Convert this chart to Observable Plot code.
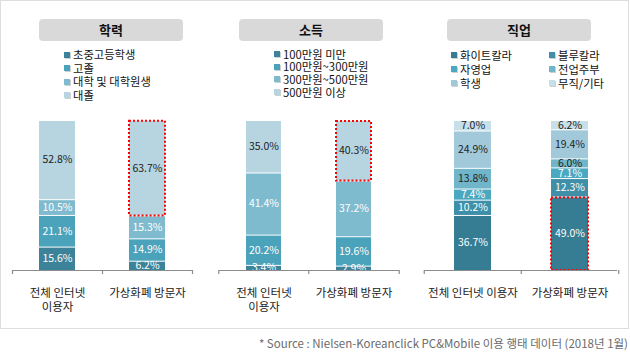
<!DOCTYPE html>
<html><head><meta charset="utf-8">
<script src="https://cdn.jsdelivr.net/npm/d3@7"></script>
<script src="https://cdn.jsdelivr.net/npm/@observablehq/plot@0.6"></script>
<style>
body{margin:0;background:#fff;}
#wrap{position:relative;width:630px;height:361px;font-family:"Noto Sans CJK KR","Noto Sans",sans-serif;overflow:hidden;background:#fff;}
.frame{position:absolute;left:0px;top:0px;width:629px;height:329px;border:1.5px solid #dedede;box-sizing:border-box;}
.title{position:absolute;top:19px;height:22px;width:144px;background:#d9d9d9;border-radius:4px;text-align:center;font-weight:bold;font-size:13px;line-height:22px;color:#111;}
.legend{position:absolute;font-size:11.3px;color:#111;}
.legend .item{display:flex;align-items:center;white-space:nowrap;overflow:visible;}
.legend .sw{width:6px;height:6px;margin-right:3px;box-shadow:1px 1px 0 #cfcfcf;flex:none;}
.plot{position:absolute;top:110px;}
.caption{position:absolute;right:2px;top:335px;font-size:11.5px;color:#6b6b6b;white-space:nowrap;line-height:16px;}
</style></head>
<body>
<div id="wrap">
  <div class="frame"></div>
</div>
<script>
const FONT = '"Noto Sans CJK KR", "Noto Sans", sans-serif';

// ---- data ----
const groups = ["전체 인터넷 이용자", "가상화폐 방문자"];
const tickLabelsWrapped = ["전체 인터넷\n이용자", "가상화폐 방문자"];
const tickLabelsFlat = ["전체 인터넷 이용자", "가상화폐 방문자"];

const panelTitles = ["학력", "소득", "직업"];

const eduCats = ["초중고등학생", "고졸", "대학 및 대학원생", "대졸"];
const eduAll = [15.6, 21.1, 10.5, 52.8];
const eduCoin = [6.2, 14.9, 15.3, 63.7];

const incCats = ["100만원 미만", "100만원~300만원", "300만원~500만원", "500만원 이상"];
const incAll = [3.4, 20.2, 41.4, 35.0];
const incCoin = [2.9, 19.6, 37.2, 40.3];

const jobCats = ["화이트칼라", "블루칼라", "자영업", "전업주부", "학생", "무직/기타"];
const jobAll = [36.7, 10.2, 7.4, 13.8, 24.9, 7.0];
const jobCoin = [49.0, 12.3, 7.1, 6.0, 19.4, 6.2];

const highlightEdu = {group: "가상화폐 방문자", cat: "대졸"};
const highlightInc = {group: "가상화폐 방문자", cat: "500만원 이상"};
const highlightJob = {group: "가상화폐 방문자", cat: "화이트칼라"};

const captionText = "* Source : Nielsen-Koreanclick PC&Mobile 이용 행태 데이터 (2018년 1월)";

// ---- styles ----
const colors4 = ["#3c8399", "#4aa2bb", "#7fbbcf", "#b7d5e1"];
const labels4 = ["#ffffff", "#ffffff", "#ffffff", "#222222"];
const colors6 = ["#367c93", "#408fa8", "#4ba8c1", "#70b5ca", "#a2c9da", "#c6dfe8"];
const labels6 = ["#ffffff", "#ffffff", "#ffffff", "#222222", "#222222", "#222222"];

const wrap = document.getElementById("wrap");

function addTitle(text, left) {
  const d = document.createElement("div");
  d.className = "title"; d.style.left = left + "px"; d.textContent = text;
  wrap.appendChild(d);
}

function addLegend(cats, colors, left, top, rowH, cols, colW) {
  const box = document.createElement("div");
  box.className = "legend"; box.style.left = left + "px"; box.style.top = top + "px";
  box.style.display = "grid";
  box.style.gridTemplateColumns = `repeat(${cols}, ${colW}px)`;
  box.style.gridAutoRows = rowH + "px";
  box.style.lineHeight = rowH + "px";
  cats.forEach((c, i) => {
    const it = document.createElement("div"); it.className = "item";
    it.style.height = rowH + "px";
    const sw = document.createElement("span"); sw.className = "sw"; sw.style.background = colors[i];
    const tx = document.createElement("span"); tx.textContent = c; tx.style.lineHeight = rowH + "px";
    it.appendChild(sw); it.appendChild(tx); box.appendChild(it);
  });
  wrap.appendChild(box);
}

function panel(cfg) {
  const data = [];
  groups.forEach((g, gi) => {
    const vals = gi === 0 ? cfg.all : cfg.coin;
    cfg.cats.forEach((c, ci) => data.push({group: g, cat: c, value: vals[ci], ci}));
  });
  const ml = 12, mr = cfg.width - 12 - cfg.span;
  const pi = cfg.pi, po = 0.3;
  const step = cfg.span / (2 - pi + 2 * po);
  const isHl = d => d.group === cfg.hl.group && d.cat === cfg.hl.cat;
  const axisColor = "#8c8c8c";
  const chart = Plot.plot({
    width: cfg.width, height: 205,
    marginLeft: ml, marginRight: mr, marginTop: 4, marginBottom: 45,
    style: {fontFamily: FONT, fontSize: "11px", background: "transparent", overflow: "visible"},
    x: {type: "band", domain: groups, paddingInner: pi, paddingOuter: po, axis: null},
    y: {domain: [0, 104], axis: null},
    color: {type: "identity"},
    marks: [
      Plot.barY(data, Plot.stackY({x: "group", y: "value", z: "cat", fill: d => cfg.colors[d.ci], insetTop: 1})),
      Plot.text(data, Plot.stackY({x: "group", y: "value", z: "cat",
        text: d => d.value.toFixed(1) + "%", fill: d => cfg.labelColors[d.ci],
        fontSize: 10.5, clip: "frame"})),
      Plot.barY(data, Plot.stackY({x: "group", y: "value", z: "cat", fill: "none",
        stroke: d => isHl(d) ? "#ff0000" : "none", strokeWidth: 2, strokeDasharray: "2,2", insetTop: 1})),
      Plot.ruleY([0], {stroke: axisColor, strokeWidth: 1.2}),
      Plot.ruleX(groups, {x: d => d, y1: 0, y2: -2.7, dx: -step / 2, stroke: axisColor, strokeWidth: 1.2}),
      Plot.ruleX([groups[1]], {x: d => d, y1: 0, y2: -2.7, dx: step / 2, stroke: axisColor, strokeWidth: 1.2}),
      Plot.axisX({tickSize: 0, tickPadding: 16, label: null,
        tickFormat: d => cfg.tickLabels[groups.indexOf(d)],
        fontSize: 11.5, lineHeight: 1.25, fill: "#222"})
    ]
  });
  chart.classList.add("plot");
  chart.style.position = "absolute";
  chart.style.left = cfg.left + "px";
  chart.style.top = "110px";
  wrap.appendChild(chart);
}

addTitle(panelTitles[0], 39);
addTitle(panelTitles[1], 239);
addTitle(panelTitles[2], 447);

addLegend(eduCats, colors4, 64, 48, 13.5, 1, 140);
addLegend(incCats, colors4, 274, 47.5, 12.7, 1, 140);
addLegend(jobCats, colors6, 451, 48, 14, 2, 98);

panel({cats: eduCats, all: eduAll, coin: eduCoin, colors: colors4, labelColors: labels4,
  tickLabels: tickLabelsWrapped, hl: highlightEdu, left: 0, width: 205, span: 180, pi: 0.6});
panel({cats: incCats, all: incAll, coin: incCoin, colors: colors4, labelColors: labels4,
  tickLabels: tickLabelsWrapped, hl: highlightInc, left: 207, width: 205, span: 180, pi: 0.61});
panel({cats: jobCats, all: jobAll, coin: jobCoin, colors: colors6, labelColors: labels6,
  tickLabels: tickLabelsFlat, hl: highlightJob, left: 412, width: 218, span: 193, pi: 0.62});

const cap = document.createElement("div");
cap.className = "caption"; cap.textContent = captionText;
wrap.appendChild(cap);
</script>
</body></html>
